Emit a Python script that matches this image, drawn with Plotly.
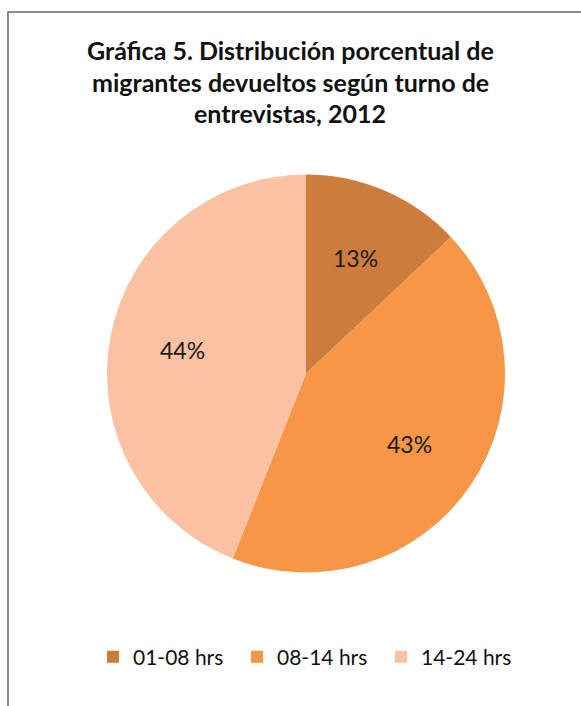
import math
import plotly.graph_objects as go

# Distribución porcentual por turno de entrevista, 2012
turnos = ["01-08 hrs", "08-14 hrs", "14-24 hrs"]
porcentajes = [13, 43, 44]
colores = ["#CD7C3B", "#F79646", "#FAC1A3"]
titulo = [
    "Gráfica 5. Distribución porcentual de",
    "migrantes devueltos según turno de",
    "entrevistas, 2012",
]

W, H = 581, 706
# pie geometry in pixels (centre and radius)
CX, CY, R = 306, 373.5, 199

fig = go.Figure(
    go.Pie(
        labels=turnos,
        values=porcentajes,
        sort=False,
        direction="clockwise",
        rotation=0,
        marker=dict(colors=colores, line=dict(width=0)),
        textinfo="none",
        hoverinfo="label+percent",
        domain=dict(x=[(CX - R) / W, (CX + R) / W], y=[1 - (CY + R) / H, 1 - (CY - R) / H]),
    )
)

# percentage labels placed at the middle angle of each slice
annotations = []
total = sum(porcentajes)
acum = 0
for v in porcentajes:
    mid = (acum + v / 2) / total * 2 * math.pi
    acum += v
    px = CX + 0.63 * R * math.sin(mid)
    py = CY - 0.63 * R * math.cos(mid)
    annotations.append(dict(
        x=px / W, y=1 - py / H, xref="paper", yref="paper",
        text=f"{round(v / total * 100)}%", showarrow=False,
        font=dict(family="Lato", size=23, color="#1a1a1a"),
        xanchor="center", yanchor="middle",
    ))

# title lines
for i, linea in enumerate(titulo):
    annotations.append(dict(
        x=290 / W, y=1 - (50 + 31.5 * i) / H, xref="paper", yref="paper",
        text=linea, showarrow=False,
        font=dict(family="Lato", size=25, color="#111111", weight="bold"),
        xanchor="center", yanchor="middle",
    ))

fig.update_layout(
    width=W,
    height=H,
    margin=dict(l=0, r=0, t=0, b=0),
    paper_bgcolor="white",
    plot_bgcolor="white",
    annotations=annotations,
    legend=dict(
        orientation="h",
        x=93 / W,
        xanchor="left",
        y=1 - 657 / H,
        yanchor="middle",
        font=dict(family="Lato", size=21, color="#111111"),
        entrywidth=99,
        entrywidthmode="pixels",
        bgcolor="rgba(0,0,0,0)",
    ),
    shapes=[
        dict(type="line", xref="paper", yref="paper",
             x0=7 / W, x1=1, y0=1 - 12 / H, y1=1 - 12 / H,
             line=dict(color="#8c8c8c", width=2)),
        dict(type="line", xref="paper", yref="paper",
             x0=8 / W, x1=8 / W, y0=1 - 12 / H, y1=0,
             line=dict(color="#8c8c8c", width=2)),
    ],
)

fig.write_html("out.html")
